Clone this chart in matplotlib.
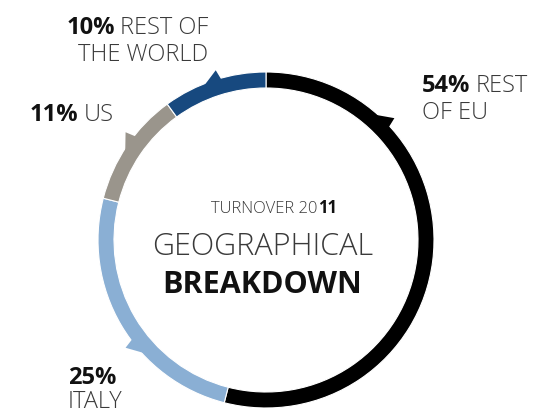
import numpy as np
import matplotlib.pyplot as plt

# data, clockwise from 12 o'clock
regions = ['REST OF EU', 'ITALY', 'US', 'REST OF THE WORLD']
shares = [54, 25, 11, 10]
colors = ['#000000', '#8aafd4', '#9a958c', '#17497f']
# where the little pointer tabs sit on each segment (deg, clockwise from top)
tab_angles = [45, 231, 306, 342]

W, H = 534, 413
cx, cy = 266, 413 - 240
R, ring = 168, 16

fig = plt.figure(figsize=(W / 100, H / 100), dpi=100)
ax = fig.add_axes([0, 0, 1, 1])

ax.pie(shares, colors=colors, startangle=90, counterclock=False,
       radius=R, center=(cx, cy),
       wedgeprops=dict(width=ring, edgecolor='white', linewidth=0.8))

# pointer tabs on the outer edge
for ang, col in zip(tab_angles, colors):
    t = np.radians(90 - ang)
    t1 = t + np.radians(4)
    t2 = t - np.radians(1.5)
    pts = [(cx + (R - 2) * np.cos(t1), cy + (R - 2) * np.sin(t1)),
           (cx + (R + 9) * np.cos(t2), cy + (R + 9) * np.sin(t2)),
           (cx + (R - 2) * np.cos(t2 - np.radians(1)), cy + (R - 2) * np.sin(t2 - np.radians(1)))]
    ax.fill(*zip(*pts), color=col, lw=0)

ax.set_xlim(0, W)
ax.set_ylim(0, H)
ax.set_aspect('equal')
ax.axis('off')

fam = ['Open Sans', 'DejaVu Sans']
light = dict(family=fam, color='#3a3a3a', fontweight='light', va='baseline')
bold = dict(family=fam, color='#111111', fontweight='bold', va='baseline')

renderer = fig.canvas.get_renderer()

def width_of(s, size, style):
    t = ax.text(0, 0, s, fontsize=size, **style)
    w = t.get_window_extent(renderer).width
    t.remove()
    return w

def two_part(x, y, b, l, size=17, gap=5, ha='left'):
    # bold part followed by light part on one line
    wb = width_of(b, size, bold)
    wl = width_of(l, size, light)
    if ha == 'right':
        x = x - wb - gap - wl
    elif ha == 'center':
        x = x - (wb + gap + wl) / 2
    ax.text(x, H - y, b, ha='left', fontsize=size, **bold)
    ax.text(x + wb + gap, H - y, l, ha='left', fontsize=size, **light)

# centre title
wl = width_of('TURNOVER 20', 12, light)
wb = width_of('11', 12, bold)
x0 = 274 - (wl + wb) / 2
ax.text(x0, H - 213, 'TURNOVER 20', ha='left', fontsize=12, **light)
ax.text(x0 + wl, H - 213, '11', ha='left', fontsize=12, **bold)
ax.text(263, H - 255, 'GEOGRAPHICAL', ha='center', fontsize=22, **light)
ax.text(262, H - 293, 'BREAKDOWN', ha='center', fontsize=22, **bold)

# labels
two_part(208, 34, '10%', 'REST OF', ha='right')
ax.text(208, H - 61, 'THE WORLD', ha='right', fontsize=17, **light)

two_part(30, 121, '11%', 'US')

two_part(422, 92, '54%', 'REST')
ax.text(422, H - 119, 'OF EU', ha='left', fontsize=17, **light)

ax.text(68, H - 384, '25%', ha='left', fontsize=17, **bold)
ax.text(68, H - 408, 'ITALY', ha='left', fontsize=17, **light)

fig.savefig('out.png', dpi=100)
